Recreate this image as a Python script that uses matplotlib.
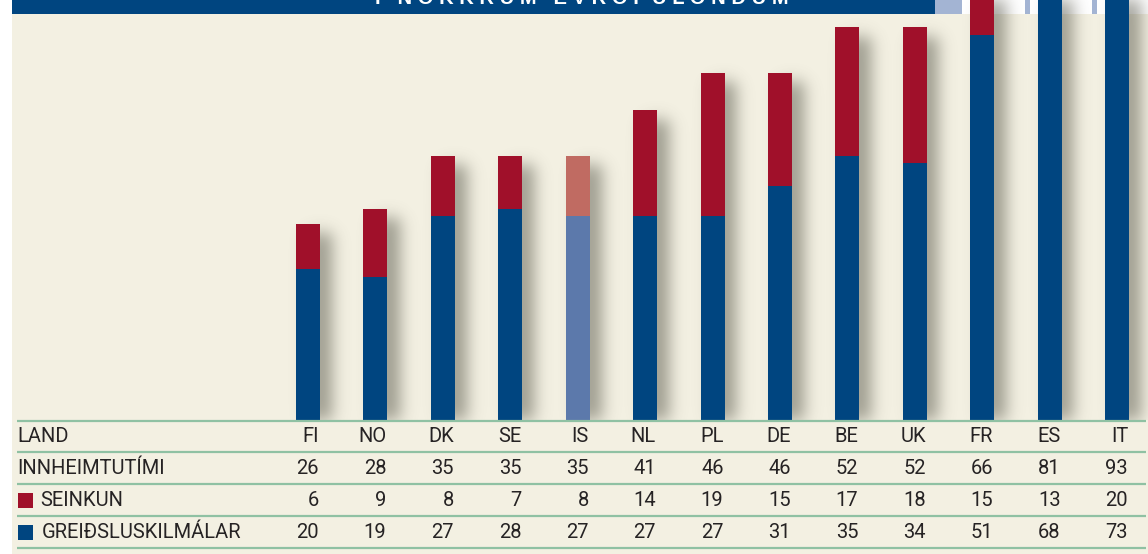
import numpy as np
import matplotlib
matplotlib.use("Agg")
import matplotlib.pyplot as plt
from matplotlib.patches import Rectangle

plt.rcParams['font.family'] = ['Roboto', 'DejaVu Sans']

# data
Countries = ['FI', 'NO', 'DK', 'SE', 'IS', 'NL', 'PL', 'DE', 'BE', 'UK', 'FR', 'ES', 'IT']
Innheimtutimi = [26, 28, 35, 35, 35, 41, 46, 46, 52, 52, 66, 81, 93]
Seinkun = [6, 9, 8, 7, 8, 14, 19, 15, 17, 18, 15, 13, 20]
Greidsluskilmalar = [20, 19, 27, 28, 27, 27, 27, 31, 35, 34, 51, 68, 73]
Highlight = 'IS'
RowLabels = ['LAND', 'INNHEIMTUTÍMI', 'SEINKUN', 'GREIÐSLUSKILMÁLAR']

W, H = 1148, 554
x0 = 308        # px of first bar centre
step = 67.42    # px between bars
scale = 7.55    # px per day
base = 420      # px of baseline from top
barw = 24 / step

cream = '#f3f0e2'
blue = '#004580'
red = '#a0102a'
blue_hi = '#5c79ab'
red_hi = '#c06b62'
txt = '#262324'
rule = '#8fc1a3'

def px2x(px):
    return (px - x0) / step

fig = plt.figure(figsize=(W / 100, H / 100), dpi=100)
fig.patch.set_facecolor(cream)

# background pieces: white margin, top strip, title bar
fig.patches.append(Rectangle((0, 0), 12 / W, 1, transform=fig.transFigure, fc='white', ec='none', zorder=-2))
fig.patches.append(Rectangle((935 / W, 1 - 14 / H), 1, 14 / H, transform=fig.transFigure, fc='white', ec='none', zorder=-2))
fig.patches.append(Rectangle((12 / W, 1 - 14 / H), (935 - 12) / W, 14 / H, transform=fig.transFigure, fc=blue, ec='none', zorder=-1))
for a, b in [(935, 962), (1025, 1030), (1092, 1097)]:
    fig.patches.append(Rectangle((a / W, 1 - 14 / H), (b - a) / W, 14 / H, transform=fig.transFigure, fc='#a3b4d3', ec='none', zorder=-1))
fig.text(582 / W, 1 - 3.5 / H, ' '.join('Í NOKKRUM EVRÓPULÖNDUM'), color='white', fontsize=14.5,
         fontweight='bold', ha='center', va='baseline', family=['Liberation Sans', 'DejaVu Sans'])

# bar chart
ax = fig.add_axes([0, (H - base) / H, 1, base / H])
ax.set_facecolor('none')
ax.set_xlim(px2x(0), px2x(W))
ymax = base / scale
ax.set_ylim(0, ymax)
ax.axis('off')

# soft drop shadows, computed from the bar heights
gx = np.linspace(px2x(0), px2x(W), W)
gy = np.linspace(0, ymax, base)
XX, YY = np.meshgrid(gx, gy)
mask = np.zeros_like(XX)
for i, tot in enumerate(Innheimtutimi):
    sx = i + 12 / step
    mask[(XX > sx - barw / 2) & (XX < sx + barw / 2) & (YY < tot - 9 / scale)] = 1
k = np.arange(-30, 31)
kern = np.exp(-k ** 2 / (2 * 8.0 ** 2))
kern /= kern.sum()
mask = np.apply_along_axis(lambda r: np.convolve(r, kern, mode='same'), 1, mask)
mask = np.apply_along_axis(lambda c: np.convolve(c, kern, mode='same'), 0, mask)
shadow = np.zeros((base, W, 4))
shadow[..., 0] = 0.33
shadow[..., 1] = 0.33
shadow[..., 2] = 0.28
shadow[..., 3] = 0.55 * mask
ax.imshow(shadow, extent=(px2x(0), px2x(W), 0, ymax), origin='lower', aspect='auto',
          interpolation='bilinear', zorder=1)

xs = np.arange(len(Countries))
bcol = [blue_hi if c == Highlight else blue for c in Countries]
rcol = [red_hi if c == Highlight else red for c in Countries]
ax.bar(xs, Greidsluskilmalar, width=barw, color=bcol, zorder=2)
ax.bar(xs, Seinkun, bottom=Greidsluskilmalar, width=barw, color=rcol, zorder=2)

# table underneath
tb = fig.add_axes([0, 0, 1, (H - base) / H])
tb.set_facecolor('none')
tb.set_xlim(px2x(0), px2x(W))
tb.set_ylim(H, base)
tb.axis('off')

for yl in [421, 452, 484, 516, 548]:
    tb.plot([px2x(17), px2x(1146)], [yl, yl], color=rule, lw=1.6, clip_on=False, solid_capstyle='butt')

row_y = [437, 468, 500, 532]
fs = 14.5
tb.text(px2x(17), row_y[0], RowLabels[0], fontsize=fs, color=txt, va='center', ha='left')
tb.text(px2x(17), row_y[1], RowLabels[1], fontsize=fs, color=txt, va='center', ha='left')
tb.text(px2x(40), row_y[2], RowLabels[2], fontsize=fs, color=txt, va='center', ha='left')
tb.text(px2x(42), row_y[3], RowLabels[3], fontsize=fs, color=txt, va='center', ha='left')
tb.add_patch(Rectangle((px2x(18), row_y[2] - 7.5), 15 / step, 15, fc=red, ec='none'))
tb.add_patch(Rectangle((px2x(18), row_y[3] - 7.5), 15 / step, 15, fc=blue, ec='none'))

for i, c in enumerate(Countries):
    xr = i + barw / 2 - 1 / step
    tb.text(xr, row_y[0], c, fontsize=fs, color=txt, va='center', ha='right')
    tb.text(xr, row_y[1], str(Innheimtutimi[i]), fontsize=fs, color=txt, va='center', ha='right')
    tb.text(xr, row_y[2], str(Seinkun[i]), fontsize=fs, color=txt, va='center', ha='right')
    tb.text(xr, row_y[3], str(Greidsluskilmalar[i]), fontsize=fs, color=txt, va='center', ha='right')

fig.savefig('out.png', dpi=100, facecolor=fig.get_facecolor())
